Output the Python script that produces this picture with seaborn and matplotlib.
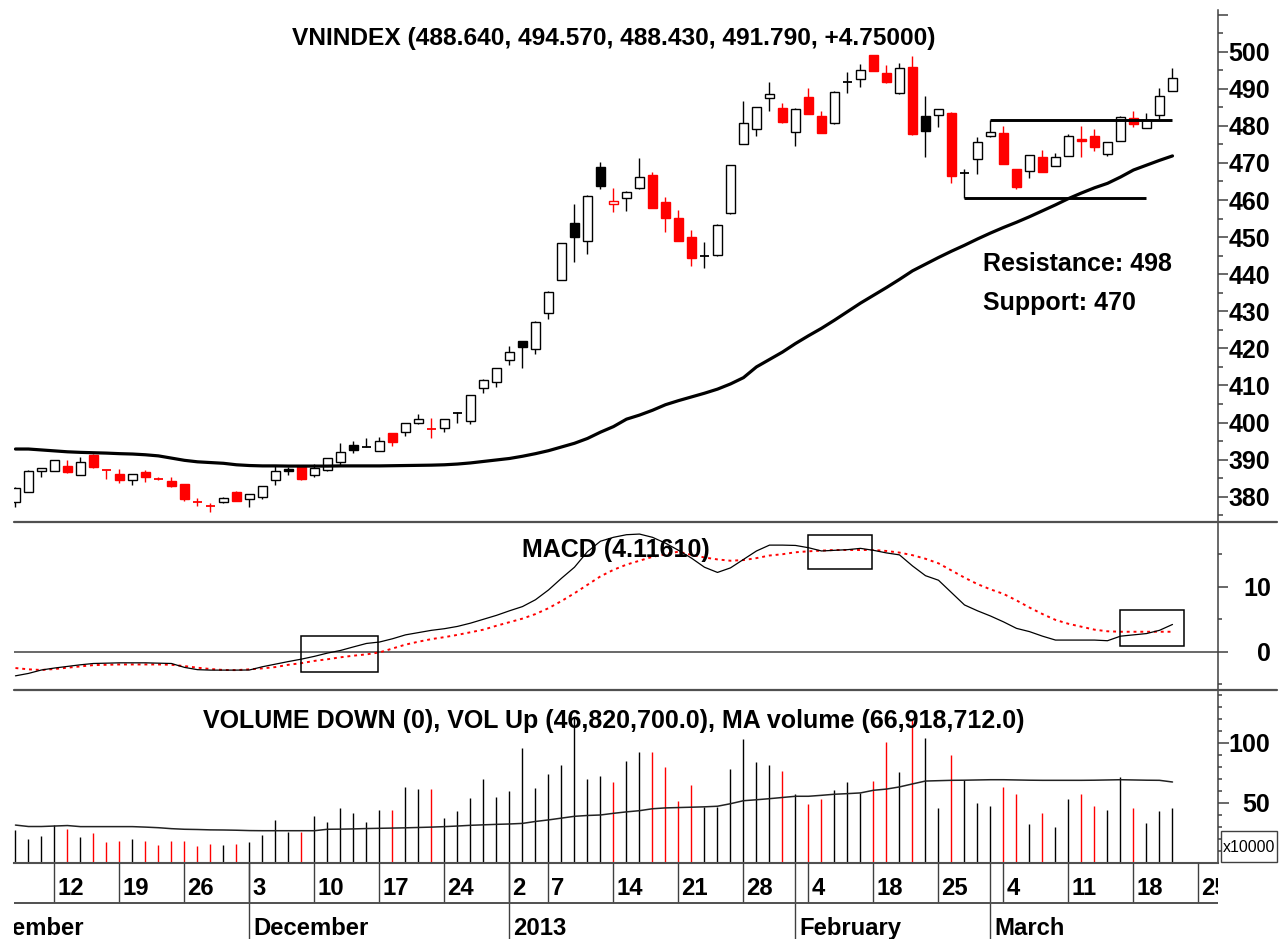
import numpy as np
import pandas as pd
import matplotlib
matplotlib.use("Agg")
import matplotlib.pyplot as plt
import seaborn as sns
from matplotlib import font_manager as fm
from matplotlib.patches import Rectangle
from matplotlib.lines import Line2D

# ---------------------------------------------------------------- data
holidays = ["2012-12-31", "2013-01-01", "2013-02-11", "2013-02-12",
            "2013-02-13", "2013-02-14", "2013-02-15"]
first_day, last_day = "2012-11-07", "2013-03-21"

opens = [378.6, 381.3, 387.0, 387.0, 388.35, 385.9, 391.3, 387.2, 386.0, 384.5,
         386.55, 384.7, 384.3, 383.4, 378.5, 377.5, 378.65, 381.35, 379.4, 380.0,
         384.5, 387.4, 387.9, 385.8, 387.2, 389.4, 393.9, 393.5, 392.3, 397.1,
         397.35, 400.0, 398.2, 398.4, 402.65, 400.5, 409.3, 410.8, 416.9, 422.0,
         419.8, 429.6, 438.4, 453.9, 449.0, 469.0, 458.9, 460.5, 463.2, 466.75,
         459.4, 455.1, 449.9, 444.9, 445.2, 456.4, 475.1, 479.1, 487.6, 484.9,
         478.3, 487.7, 482.7, 480.7, 491.9, 492.6, 499.1, 494.35, 488.8, 496.0,
         482.7, 482.9, 483.6, 467.2, 471.0, 477.2, 478.0, 468.3, 467.8, 471.7,
         469.3, 472.0, 476.5, 477.3, 472.3, 476.0, 482.2, 479.5, 482.9, 489.5]
highs = [382.6, 387.1, 387.7, 390.0, 389.9, 390.8, 391.4, 387.2, 387.4, 386.1,
         387.2, 385.4, 385.4, 383.5, 379.6, 378.4, 380.0, 381.4, 380.7, 383.0,
         388.5, 387.9, 388.0, 388.8, 390.4, 394.4, 395.0, 395.9, 396.2, 397.2,
         399.9, 402.2, 401.3, 401.0, 402.8, 407.5, 411.6, 414.7, 420.5, 422.1,
         427.4, 435.6, 448.4, 458.9, 461.3, 470.2, 463.2, 462.4, 471.4, 467.5,
         460.9, 457.3, 451.9, 448.8, 453.5, 469.5, 486.7, 485.1, 491.9, 486.3,
         484.7, 490.1, 484.0, 489.4, 494.6, 496.7, 499.2, 496.4, 497.0, 498.8,
         488.1, 484.6, 483.7, 468.3, 477.1, 481.6, 480.0, 468.4, 472.2, 473.5,
         472.6, 477.7, 480.0, 479.1, 475.7, 482.6, 484.0, 483.6, 490.1, 495.5]
lows = [377.3, 381.2, 385.2, 386.9, 386.5, 385.8, 387.8, 384.8, 383.6, 383.15,
        384.0, 384.5, 382.5, 378.9, 377.5, 376.0, 378.2, 378.8, 377.3, 379.5,
        383.2, 385.8, 384.6, 385.2, 387.0, 388.5, 391.9, 393.4, 392.2, 393.7,
        396.4, 399.5, 395.7, 397.5, 399.8, 399.6, 408.0, 409.7, 415.5, 414.6,
        418.5, 427.9, 438.3, 443.4, 445.4, 462.9, 456.9, 457.1, 463.0, 457.8,
        451.3, 448.9, 442.3, 441.6, 445.0, 456.3, 475.0, 477.4, 484.0, 480.8,
        474.7, 483.1, 478.0, 480.5, 489.0, 490.6, 494.8, 491.6, 488.6, 477.6,
        471.5, 479.6, 464.5, 460.6, 466.9, 477.0, 469.6, 463.0, 465.9, 467.5,
        469.1, 471.8, 471.5, 473.2, 472.0, 475.9, 479.6, 479.3, 481.9, 489.3]
closes = [382.25, 387.0, 387.6, 389.9, 386.65, 389.35, 388.1, 387.2, 384.5, 386.0,
          385.2, 384.7, 382.9, 379.4, 378.5, 377.5, 379.55, 378.9, 380.6, 382.9,
          386.9, 387.0, 384.7, 387.6, 390.3, 392.1, 392.6, 393.5, 394.9, 394.7,
          399.8, 400.85, 398.2, 400.85, 402.65, 407.4, 411.5, 414.6, 419.1, 420.3,
          427.0, 435.1, 448.3, 450.1, 461.2, 463.8, 459.7, 462.3, 466.3, 457.9,
          455.2, 449.0, 444.3, 444.9, 453.4, 469.4, 480.7, 485.0, 488.5, 481.0,
          484.6, 483.2, 478.2, 489.2, 491.9, 495.1, 494.9, 491.7, 495.5, 477.7,
          478.7, 484.5, 466.5, 467.2, 475.6, 478.3, 469.7, 463.6, 472.1, 467.65,
          471.7, 477.3, 475.9, 474.4, 475.6, 482.5, 480.5, 481.6, 488.05, 492.8]
price_ma = [392.85, 392.85, 392.6, 392.35, 392.1, 391.95, 391.85, 391.75, 391.6, 391.5,
            391.3, 391.0, 390.4, 389.8, 389.4, 389.2, 389.0, 388.6, 388.4, 388.3,
            388.3, 388.25, 388.25, 388.25, 388.25, 388.3, 388.3, 388.3, 388.3, 388.35,
            388.4, 388.45, 388.5, 388.6, 388.8, 389.1, 389.5, 389.9, 390.3, 390.9,
            391.6, 392.4, 393.4, 394.4, 395.7, 397.4, 398.9, 400.9, 402.0, 403.3,
            404.8, 405.9, 406.9, 407.9, 409.0, 410.4, 412.1, 415.0, 417.0, 419.0,
            421.3, 423.4, 425.4, 427.6, 429.9, 432.2, 434.3, 436.4, 438.6, 440.9,
            442.7, 444.5, 446.2, 447.8, 449.5, 451.1, 452.6, 454.0, 455.5, 457.1,
            458.7, 460.4, 461.9, 463.3, 464.5, 466.2, 468.1, 469.4, 470.7, 471.9]
macd = [-3.7, -3.33, -2.8, -2.5, -2.25, -2.0, -1.8, -1.75, -1.7, -1.7,
        -1.7, -1.75, -1.8, -2.4, -2.75, -2.82, -2.82, -2.82, -2.8, -2.3,
        -1.9, -1.5, -1.13, -0.7, -0.2, 0.2, 0.75, 1.28, 1.5, 2.0,
        2.6, 2.95, 3.3, 3.55, 3.9, 4.4, 5.0, 5.6, 6.3, 6.95,
        8.0, 9.5, 11.3, 13.0, 15.4, 17.0, 17.6, 18.0, 18.1, 17.6,
        16.7, 15.6, 14.4, 13.0, 12.2, 12.9, 14.2, 15.5, 16.4, 16.4,
        16.35, 16.0, 15.5, 15.6, 15.7, 15.9, 15.6, 15.2, 14.9, 13.2,
        11.7, 11.0, 9.1, 7.2, 6.3, 5.5, 4.6, 3.6, 3.1, 2.4,
        1.8, 1.8, 1.8, 1.8, 1.7, 2.4, 2.6, 2.8, 3.3, 4.2]
signal = [-2.5, -2.7, -2.8, -2.65, -2.45, -2.25, -2.05, -2.0, -1.95, -1.95,
          -1.95, -1.95, -2.0, -2.2, -2.45, -2.65, -2.8, -2.82, -2.7, -2.55,
          -2.35, -2.0, -1.75, -1.4, -1.15, -0.85, -0.6, -0.4, -0.1, 0.5,
          1.1, 1.55, 1.95, 2.25, 2.6, 3.0, 3.4, 4.0, 4.55, 5.1,
          5.8, 6.7, 7.8, 9.0, 10.3, 11.6, 12.6, 13.4, 14.0, 14.6,
          15.0, 15.4, 14.9, 14.5, 14.2, 14.0, 14.1, 14.4, 14.8, 15.0,
          15.3, 15.45, 15.55, 15.65, 15.65, 15.65, 15.65, 15.5, 15.25, 14.85,
          14.3, 13.6, 12.5, 11.4, 10.4, 9.6, 8.9, 7.9, 6.8, 5.8,
          4.9, 4.3, 3.85, 3.4, 3.15, 3.08, 3.08, 3.08, 3.08, 3.08]
volume = [27.1, 19.6, 22.4, 31.25, 28.1, 21.25, 24.6, 16.9, 18.3, 19.7,
          18.3, 15.0, 18.3, 18.3, 13.6, 15.8, 15.0, 15.8, 16.9, 23.1,
          35.1, 25.4, 25.4, 39.1, 34.1, 45.3, 41.6, 34.1, 43.9, 43.9,
          63.3, 61.1, 61.1, 36.9, 43.1, 53.6, 69.4, 55.0, 60.0, 95.7,
          61.9, 73.9, 81.25, 121.5, 69.4, 71.7, 66.7, 84.7, 92.2, 92.2,
          79.6, 51.0, 64.4, 46.1, 46.1, 78.1, 102.6, 84.0, 81.25, 76.5,
          57.1, 48.4, 53.3, 60.8, 66.7, 58.3, 68.1, 100.1, 75.1, 119.3,
          103.5, 45.6, 89.6, 68.75, 49.9, 47.4, 63.3, 57.1, 31.8, 40.9,
          29.9, 53.3, 57.1, 47.4, 43.75, 70.9, 45.6, 33.3, 43.1, 45.6]
volume_ma = [31.2, 30.0, 30.0, 30.4, 30.8, 29.9, 29.9, 29.9, 29.9, 29.9,
             29.5, 29.0, 28.2, 27.7, 27.5, 27.2, 27.1, 26.9, 26.6, 26.5,
             26.5, 26.5, 26.5, 26.5, 27.7, 27.8, 28.0, 28.3, 28.5, 28.7,
             28.9, 29.2, 29.5, 29.9, 30.4, 31.0, 31.4, 31.8, 32.1, 32.6,
             34.2, 35.5, 37.0, 38.5, 39.2, 39.6, 41.0, 42.2, 43.2, 44.8,
             45.5, 45.8, 46.1, 46.4, 46.9, 49.0, 51.5, 52.3, 53.2, 54.2,
             55.2, 55.2, 56.0, 56.9, 57.4, 58.0, 60.2, 61.2, 63.0, 65.5,
             67.9, 68.2, 68.5, 68.6, 68.8, 69.0, 69.0, 68.8, 68.6, 68.5,
             68.5, 68.5, 68.5, 68.6, 68.8, 69.0, 68.8, 68.6, 68.5, 67.1]

support_level, support_from, support_to = 460.64, "2013-02-27", "2013-03-19"
resistance_level, resistance_from, resistance_to = 481.6, "2013-03-01", "2013-03-21"
# MACD highlight boxes: (first day, last day, low, high)
macd_boxes = [("2012-12-07", "2012-12-14", -3.17, 2.46),
              ("2013-02-04", "2013-02-08", 12.68, 17.95),
              ("2013-03-15", "2013-03-21", 0.88, 6.42)]

title_price = "VNINDEX (488.640, 494.570, 488.430, 491.790, +4.75000)"
title_macd = "MACD (4.11610)"
title_volume = "VOLUME DOWN (0), VOL Up (46,820,700.0), MA volume (66,918,712.0)"
note_lines = ["Resistance: 498", "Support: 470"]
month_names = {11: "November", 12: "December", 1: "2013", 2: "February", 3: "March"}

# ---------------------------------------------------------------- calendar
cal = pd.bdate_range("2012-11-01", "2013-03-29")
cal = cal[~cal.isin(pd.to_datetime(holidays))]
pos0 = cal.get_loc(pd.Timestamp(first_day))
cal_idx = np.arange(len(cal)) - pos0
dates = cal[(cal >= pd.Timestamp(first_day)) & (cal <= pd.Timestamp(last_day))]
def di(d):
    return cal.get_loc(pd.Timestamp(d)) - pos0

cs = pd.Series(cal_idx, index=cal)
week_first = cs.groupby(cal.to_period("W")).min()
month_first = cs.groupby(cal.to_period("M")).min()

# ---------------------------------------------------------------- style
sns.set_theme(style="white")
avail = {f.name for f in fm.fontManager.ttflist}
if "Liberation Sans Narrow" in avail:
    FAM, K = "Liberation Sans Narrow", 1.0
else:
    FAM, K = "Liberation Sans", 0.82
plt.rcParams["font.family"] = [FAM, "DejaVu Sans"]
plt.rcParams["text.color"] = "black"
plt.rcParams["ytick.labelcolor"] = "black"

RED = "#FF0000"
AXC = "#404040"
W, H = 1281.0, 939.0
fig = plt.figure(figsize=(W / 100, H / 100), dpi=100, facecolor="white")
def fx(p): return p / W
def fy(p): return 1.0 - p / H
LPX, RPX = 13.5, 1218.0
YT, YP, YM, YV = 10.0, 521.7, 689.5, 862.5
def add(y0, y1):
    return fig.add_axes([fx(LPX), fy(y1), fx(RPX) - fx(LPX), fy(y0) - fy(y1)])
ax_p = add(YT, YP)
ax_m = add(YP, YM)
ax_v = add(YM, YV)
ax_d = add(YV, H)
XLIM = (-0.15, 92.5)

idx = np.arange(len(dates))
O, Hh, Lo, C = (np.array(a) for a in (opens, highs, lows, closes))
prev = np.r_[C[0] - 1.0, C[:-1]]
col = np.where(C < prev, RED, "black")
df = pd.DataFrame({"idx": idx, "ma": price_ma, "macd": macd, "signal": signal,
                   "vol_ma": volume_ma})

# ---------------------------------------------------------------- price
ax_p.vlines(idx, Lo, Hh, colors=col, lw=1.0, zorder=2)
body = C != O
face = np.where(C < O, col, "white")
ax_p.bar(idx[body], np.abs(C - O)[body], bottom=np.minimum(O, C)[body], width=0.72,
         color=list(face[body]), edgecolor=list(col[body]), linewidth=1.0, zorder=3)
doji = ~body
ax_p.hlines(O[doji], idx[doji] - 0.36, idx[doji] + 0.36, colors=col[doji], lw=1.3, zorder=3)
sns.lineplot(data=df, x="idx", y="ma", ax=ax_p, color="black", linewidth=2.3, zorder=4)
ax_p.hlines(support_level, di(support_from), di(support_to), colors="black", lw=2.1, zorder=5)
ax_p.hlines(resistance_level, di(resistance_from), di(resistance_to), colors="black", lw=2.1, zorder=5)

# ---------------------------------------------------------------- macd
ax_m.axhline(0, color=AXC, lw=1.1, zorder=1)
sns.lineplot(data=df, x="idx", y="macd", ax=ax_m, color="black", linewidth=0.9, zorder=3)
sns.lineplot(data=df, x="idx", y="signal", ax=ax_m, color=RED, linewidth=1.4,
             linestyle=(0, (1.5, 2.0)), zorder=2)
for d0, d1, lo, hi in macd_boxes:
    x0 = di(d0) - 0.05
    x1 = di(d1) + 0.9
    ax_m.add_patch(Rectangle((x0, lo), x1 - x0, hi - lo, fill=False,
                             edgecolor="black", lw=1.1, zorder=4))

# ---------------------------------------------------------------- volume
ax_v.vlines(idx, 0, volume, colors=col, lw=1.0, zorder=2)
sns.lineplot(data=df, x="idx", y="vol_ma", ax=ax_v, color="#222222", linewidth=1.1, zorder=3)

# ---------------------------------------------------------------- axes styling
def style(ax, ylim, major, labels, minor, maj_len, min_len, pad):
    ax.set_xlim(*XLIM)
    ax.set_ylim(*ylim)
    ax.set_facecolor("white")
    ax.grid(False)
    for s in ("top", "left", "bottom"):
        ax.spines[s].set_visible(False)
    ax.spines["right"].set_visible(True)
    ax.spines["right"].set_color(AXC)
    ax.spines["right"].set_linewidth(1.1)
    ax.set_xticks([])
    ax.set_xlabel("")
    ax.set_ylabel("")
    ax.yaxis.tick_right()
    ax.tick_params(axis="y", which="major", direction="out", length=maj_len, width=1.1,
                   color=AXC, pad=pad, right=True, left=False, labelcolor="black")
    ax.tick_params(axis="y", which="minor", direction="out", length=min_len, width=1.1,
                   color=AXC, right=True, left=False)
    ax.set_yticks(minor, minor=True)
    ax.set_yticks(major, labels, fontsize=22 * K, fontweight="bold", ha="right",
                  color="black")

pmaj = list(range(380, 511, 10))
style(ax_p, (373.25, 511.25), pmaj, [str(v) if v <= 500 else "" for v in pmaj],
      list(range(375, 510, 10)), 7.2, 3.6, 30.2)
style(ax_m, (-5.8, 20.0), [0, 10], ["0", "10"], [-5, 5, 15], 7.5, 3.0, 30.6)
style(ax_v, (0, 144.2), [50, 100], ["50", "100"],
      [v for v in range(10, 141, 10) if v not in (50, 100)], 7.9, 2.9, 29.5)
ax_v.spines["bottom"].set_visible(True)
ax_v.spines["bottom"].set_color("#505050")
ax_v.spines["bottom"].set_linewidth(1.5)

# separators
for yy in (YP, YM):
    fig.add_artist(Line2D([fx(LPX), fx(1277)], [fy(yy), fy(yy)], color="#505050", lw=1.6))

# ---------------------------------------------------------------- date axis
ax_d.set_xlim(*XLIM)
ax_d.set_ylim(0, 1)
ax_d.axis("off")
row = (H - 902.5) / (H - YV)
wk = week_first[(week_first >= 0) & (week_first <= 93)]
mo = month_first[(month_first >= -6) & (month_first <= 93)]
ax_d.vlines(wk.values, row, 1, colors=AXC, lw=1.0)
ax_d.vlines(mo.values, 0, 1, colors=AXC, lw=1.0)
ax_d.axhline(row, color="#505050", lw=1.4)
for per, i in wk.items():
    ax_d.text(i + 0.22, (H - 895) / (H - YV), str(cal[pos0 + i].day), ha="left",
              va="baseline", fontsize=21 * K, fontweight="bold", color="black",
              clip_on=True)
for per, i in mo.items():
    ax_d.text(i + 0.3, (H - 935) / (H - YV), month_names[cal[pos0 + i].month], ha="left",
              va="baseline", fontsize=21 * K, fontweight="bold", color="black",
              clip_on=True)

# ---------------------------------------------------------------- texts
tk = dict(va="baseline", fontweight="bold", color="black")
fig.text(fx(614), fy(45), title_price, ha="center", fontsize=21.5 * K, **tk)
fig.text(fx(616), fy(557), title_macd, ha="center", fontsize=22 * K, **tk)
fig.text(fx(614), fy(728.3), title_volume, ha="center", fontsize=22 * K, **tk)
fig.text(fx(982.7), fy(270.7), note_lines[0], ha="left", fontsize=22 * K, **tk)
fig.text(fx(982.7), fy(310), note_lines[1], ha="left", fontsize=22 * K, **tk)

# multiplier box
fig.add_artist(Rectangle((fx(1221), fy(861.5)), fx(1277) - fx(1221), fy(831) - fy(861.5),
                         transform=fig.transFigure, fill=False, edgecolor=AXC, lw=1.0))
fig.text(fx(1249.5), fy(852), "x10000", ha="center", va="baseline", fontsize=14 * K,
         color="black")

fig.savefig("out.png", dpi=100, facecolor="white")
